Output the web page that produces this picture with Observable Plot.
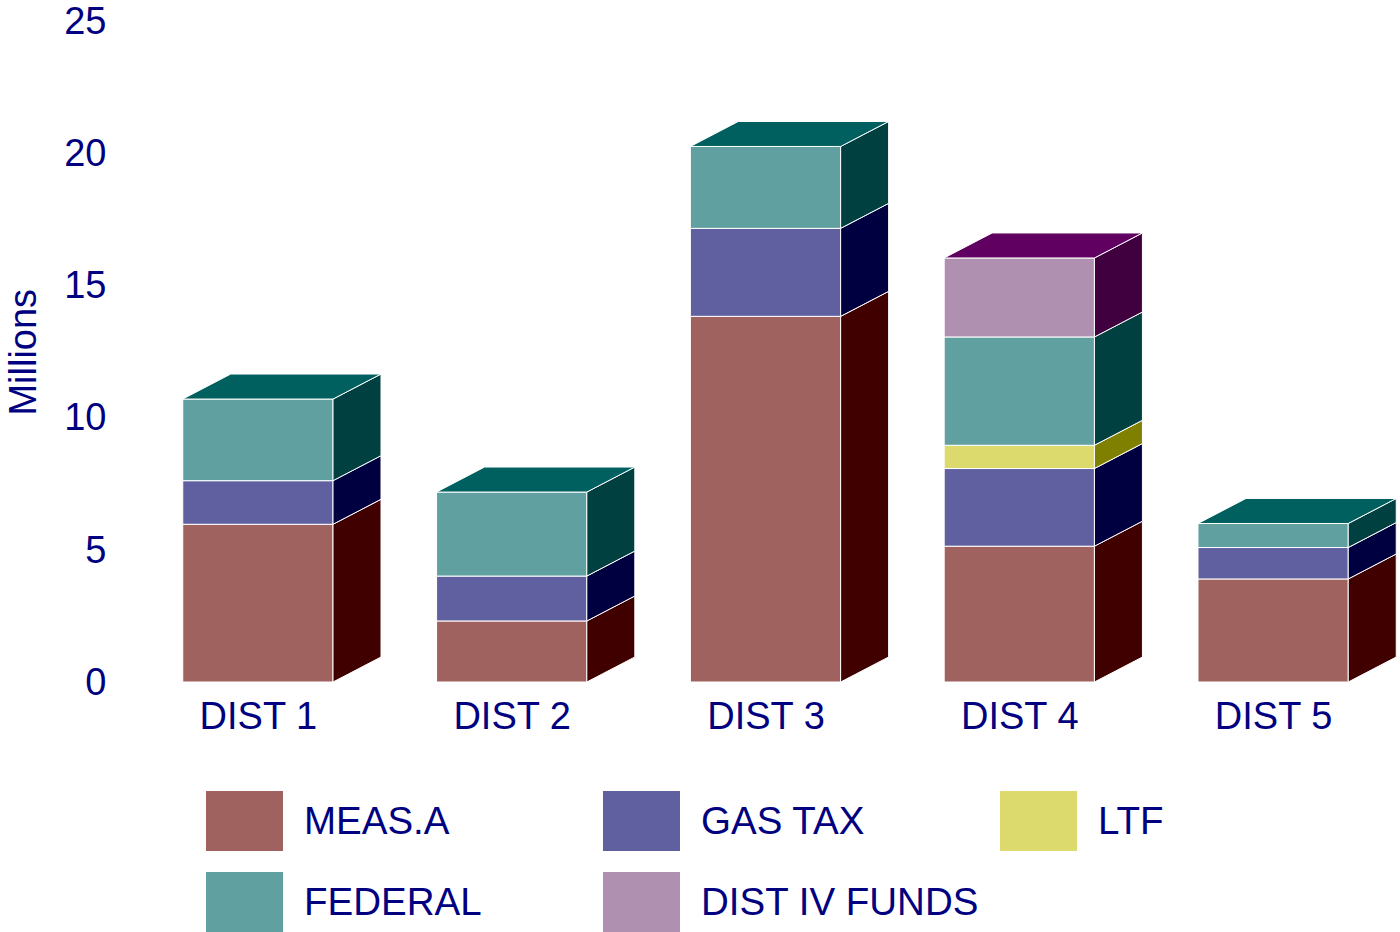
<!DOCTYPE html>
<html>
<head>
<meta charset="utf-8">
<script src="https://cdn.jsdelivr.net/npm/d3@7"></script>
<script src="https://cdn.jsdelivr.net/npm/@observablehq/plot@0.6"></script>
<style>
  html, body { margin: 0; padding: 0; background: #ffffff; }
  #wrap { position: relative; width: 1400px; height: 932px; overflow: hidden; background: #fff; font-family: "Liberation Sans", Arial, sans-serif; }
  #chart svg text { font-size: 38px; font-family: "Liberation Sans", Arial, sans-serif; fill: #000080; }
  #legend { position: absolute; left: 206px; top: 791px; display: grid; grid-template-columns: 397px 397px 300px; grid-auto-rows: 81px; }
  .item { display: flex; align-items: flex-start; height: 60px; }
  .sw { width: 77px; height: 60px; flex: none; }
  .lab { margin-left: 21px; font-size: 38.5px; line-height: 60px; color: #000080; white-space: nowrap; }
</style>
</head>
<body>
<div id="wrap">
  <div id="chart"></div>
  <div id="legend"></div>
</div>
<script>
// ---- data ----
const categories = ["DIST 1", "DIST 2", "DIST 3", "DIST 4", "DIST 5"];
const seriesNames = ["MEAS.A", "GAS TAX", "LTF", "FEDERAL", "DIST IV FUNDS"];
const measA   = [5.97, 2.31, 13.84, 5.14, 3.90];
const gasTax  = [1.65, 1.70, 3.33, 2.94, 1.19];
const ltf     = [0, 0, 0, 0.88, 0];
const federal = [3.09, 3.18, 3.10, 4.10, 0.91];
const distIV  = [0, 0, 0, 2.99, 0];
const yTicks = [0, 5, 10, 15, 20, 25];
const yLabel = "Millions";

// ---- styles ----
const frontColors = ["#A0625E", "#6060A0", "#DCDA6C", "#60A0A0", "#B090B0"];
const sideColors  = ["#400000", "#000040", "#808000", "#004040", "#400040"];
const topColors   = ["#600000", "#000060", "#A0A000", "#006060", "#600060"];
const DX = 48, DY = 25;

const seriesValues = [measA, gasTax, ltf, federal, distIV];
const table = [];
categories.forEach((c, i) => {
  seriesNames.forEach((s, j) => {
    const v = seriesValues[j][i];
    if (v > 0) table.push({cat: c, series: s, value: v});
  });
});

const depthMark = (index, scales) => {
  const x = scales.x, y = scales.y;
  const bw = x.bandwidth();
  const g = d3.create("svg:g");
  categories.forEach((c, i) => {
    const x0 = x(c), x1 = x0 + bw;
    let base = 0, last = -1;
    seriesNames.forEach((s, j) => {
      const v = seriesValues[j][i];
      if (!(v > 0)) return;
      const yb = y(base), yt = y(base + v);
      g.append("polygon")
        .attr("points", [[x1, yb], [x1 + DX, yb - DY], [x1 + DX, yt - DY], [x1, yt]].map(p => p.join(",")).join(" "))
        .attr("fill", sideColors[j])
        .attr("stroke", "#ffffff")
        .attr("stroke-width", 1);
      base += v; last = j;
    });
    const yt = y(base);
    g.append("polygon")
      .attr("points", [[x0, yt], [x0 + DX, yt - DY], [x1 + DX, yt - DY], [x1, yt]].map(p => p.join(",")).join(" "))
      .attr("fill", topColors[last])
      .attr("stroke", "#ffffff")
      .attr("stroke-width", 1);
  });
  return g.node();
};

const chart = Plot.plot({
  width: 1400,
  height: 760,
  marginTop: 21.5,
  marginBottom: 78,
  marginLeft: 132,
  marginRight: 1,
  style: {background: "transparent", overflow: "visible", color: "#000080", fontFamily: "Liberation Sans, Arial, sans-serif", fontSize: "38px"},
  x: {domain: categories, paddingInner: 0.408, paddingOuter: 0.2, round: false, tickSize: 0, tickPadding: 20, label: null},
  y: {domain: [0, 25], ticks: yTicks, tickSize: 0, tickPadding: 26, label: null},
  color: {domain: seriesNames, range: frontColors},
  marks: [
    Plot.barY(table, {x: "cat", y: "value", fill: "series", stroke: "#ffffff", strokeWidth: 1}),
    depthMark,
    Plot.text([yLabel], {frameAnchor: "left", textAnchor: "middle", rotate: -90, dx: -109, fill: "#000080"})
  ]
});
document.getElementById("chart").appendChild(chart);

const legend = document.getElementById("legend");
seriesNames.forEach((s, j) => {
  const item = document.createElement("div");
  item.className = "item";
  const sw = document.createElement("div");
  sw.className = "sw";
  sw.style.background = frontColors[j];
  const lab = document.createElement("div");
  lab.className = "lab";
  lab.textContent = s;
  item.appendChild(sw); item.appendChild(lab);
  legend.appendChild(item);
});
</script>
</body>
</html>
